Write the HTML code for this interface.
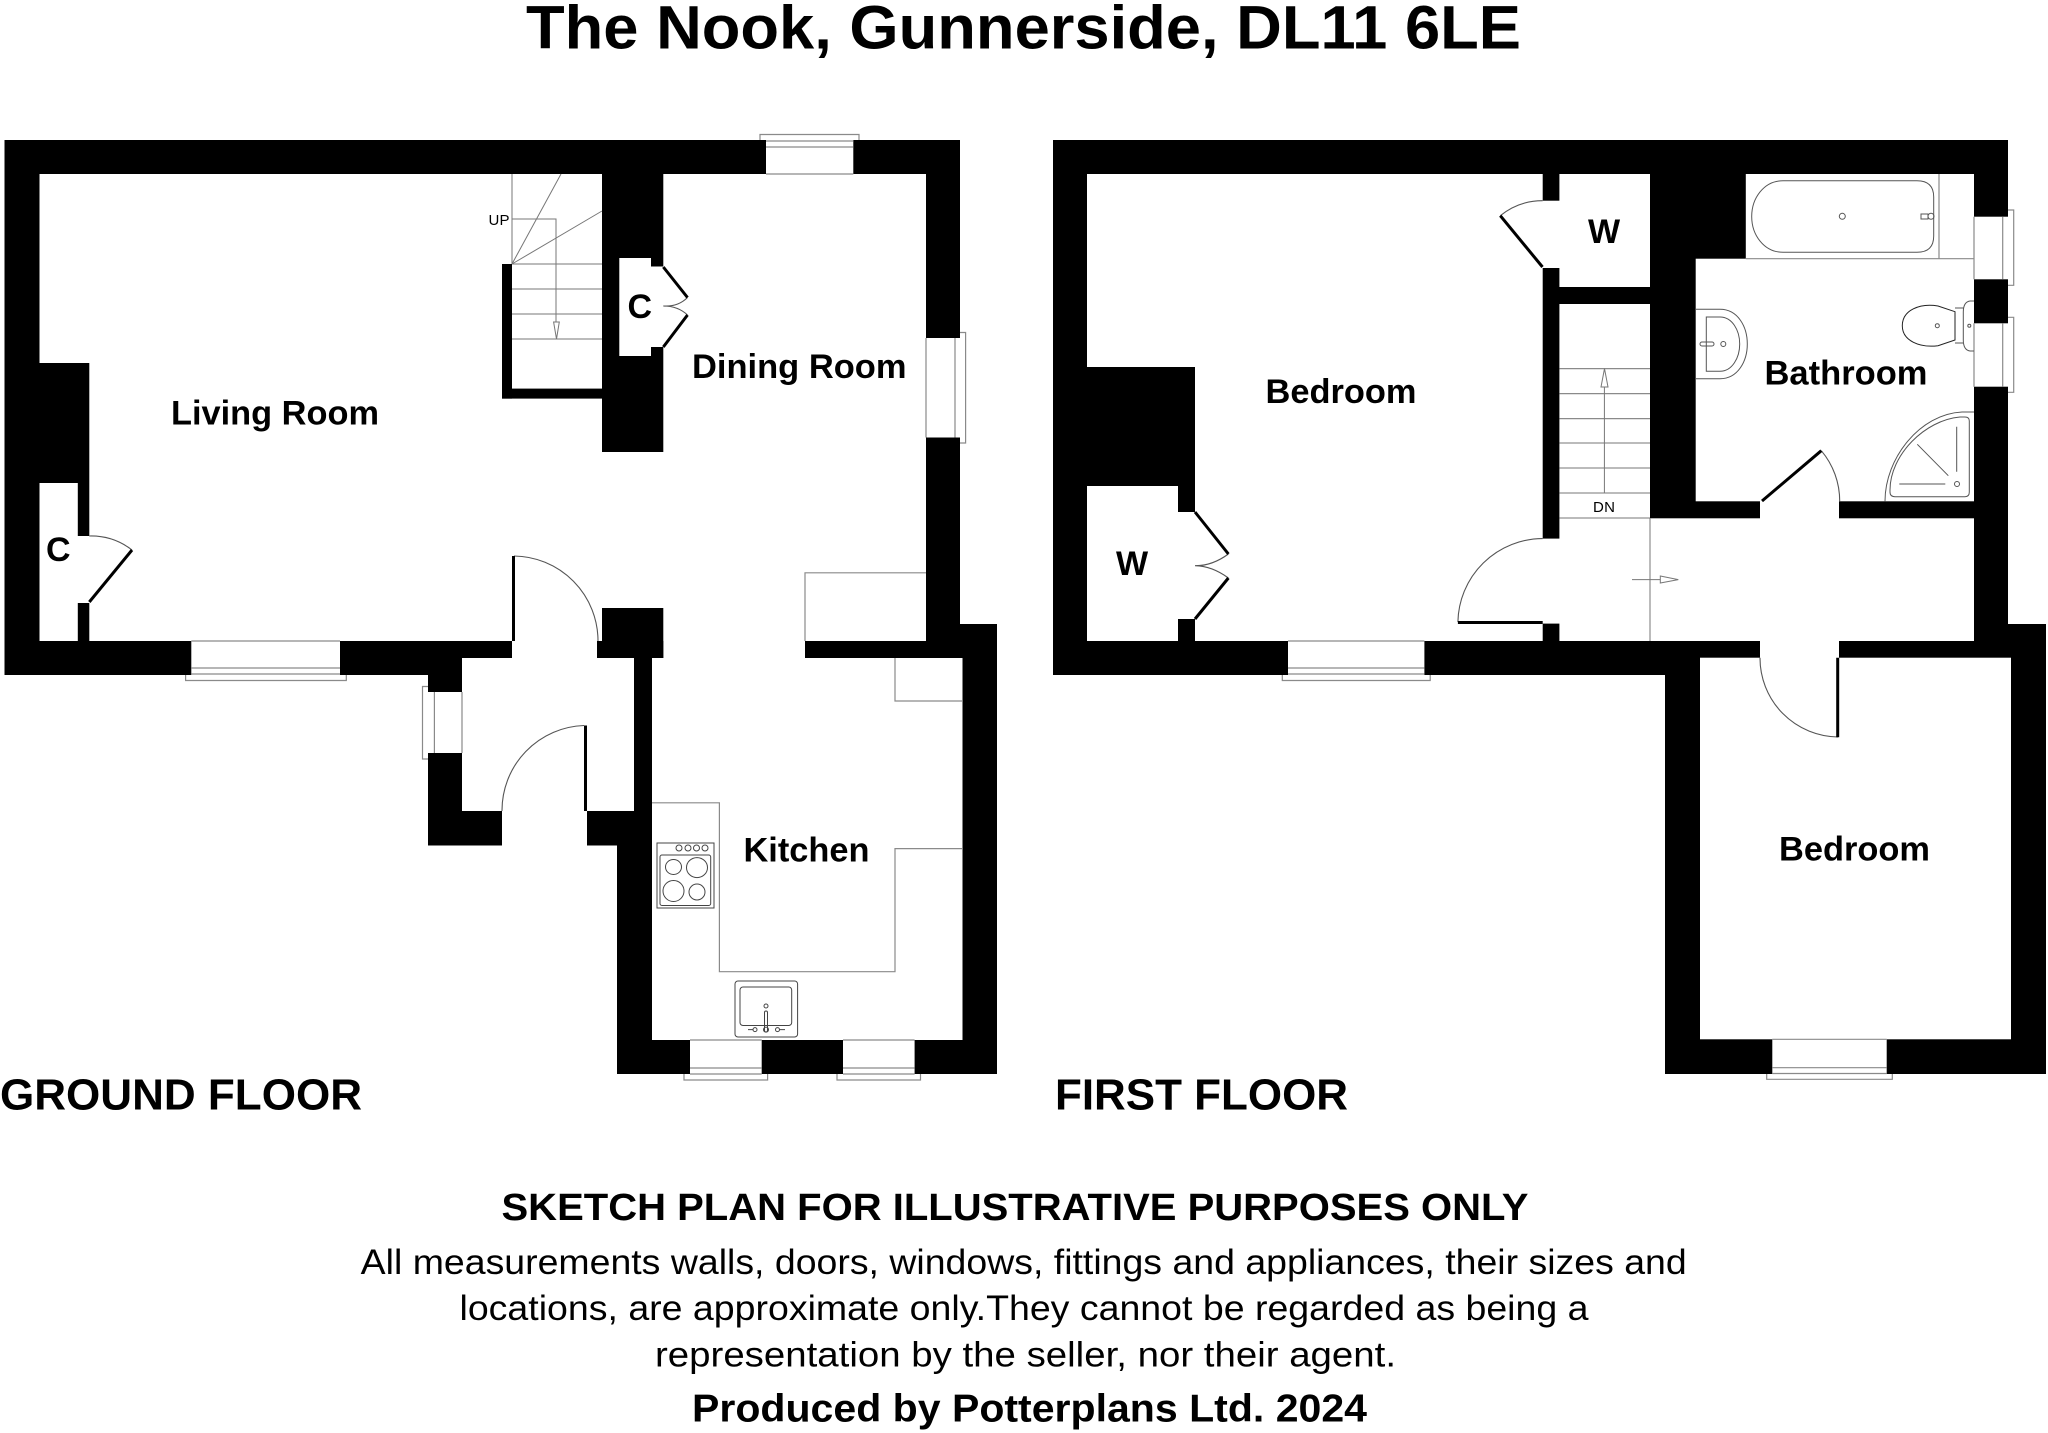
<!DOCTYPE html>
<html><head><meta charset="utf-8"><style>html,body{margin:0;padding:0;background:#fff}svg{display:block}text{font-family:"Liberation Sans",sans-serif;fill:#000}.b{font-weight:bold;font-size:34px}</style></head><body>
<svg width="2048" height="1433" viewBox="0 0 2048 1433" xmlns="http://www.w3.org/2000/svg">
<rect width="2048" height="1433" fill="#fff"/>
<!-- GROUND outer -->
<path fill="#000" d="M4.5 140H960V624H997V1074H617V845.5H587V811H502V845.5H428V675H4.5Z"/>
<g fill="#fff">
<rect x="39.5" y="174" width="886.5" height="467"/>
<rect x="660" y="640" width="145" height="19"/>
<rect x="652" y="658" width="310.5" height="382"/>
<rect x="462" y="658" width="172" height="153"/>
<rect x="512" y="640" width="85" height="19"/>
</g>
<g fill="#000">
<rect x="39" y="363" width="50.3" height="278"/>
<rect x="602" y="174" width="61.3" height="278"/>
<rect x="502" y="264" width="10" height="134.6"/>
<rect x="502" y="388.6" width="100.5" height="10"/>
<rect x="602" y="608" width="61.3" height="50"/>
<rect x="597" y="641" width="66.3" height="17"/>
</g>
<g fill="#fff">
<path d="M39.5 483H77.8V536H90V603H77.8V641H39.5Z"/>
<path d="M619.3 258H651V266.5H664V347H651V356H619.3Z"/>
<!-- ground windows -->
<rect x="766" y="139" width="87.3" height="36"/>
<rect x="925" y="338" width="36" height="99.5"/>
<rect x="191.3" y="640" width="148.7" height="35.5"/>
<rect x="427" y="692" width="36" height="61"/>
<rect x="690" y="1039" width="71.7" height="35.5"/>
<rect x="843" y="1039" width="71.6" height="35.5"/>
</g>
<g fill="none" stroke="#8a8a8a" stroke-width="1.2">
<path d="M760 140V134.5H859V140M766 141H853.3M766 147H853.3M766 174H853.3"/>
<path d="M960 332.5H965.6V443H960M955 338V437.5M926 338V437.5"/>
<path d="M185.6 675V680.5H346.3V675M191.3 668H340M191.3 674H340M191.3 641H340"/>
<path d="M428 686.5H422.5V759H428M434.4 692V753M462 692V753"/>
<path d="M684 1074V1080H767.6V1074M690 1068H761.7M690 1074H761.7M690 1040H761.7"/>
<path d="M837 1074V1080H920.5V1074M843 1068H914.6M843 1074H914.6M843 1040H914.6"/>
<path d="M805 641V572.8H926"/>
<path d="M895 658V701H962"/>
<path d="M962 848.6H895V971.7H719.4V802.8H652"/>
</g>
<!-- stairs ground -->
<g fill="none" stroke="#777" stroke-width="1">
<path d="M512 174V264M512 264L561 174M512 264L602 211"/>
<path d="M512 264H602M512 289H602M512 314H602M512 339H602"/>
<path d="M512 219H556V322"/>
<path d="M553.6 322H559.3L556.5 339Z" fill="#fff"/>
</g>
<text x="488.5" y="225" font-size="15" textLength="21">UP</text>
<!-- ground doors -->
<g fill="none" stroke="#555" stroke-width="1.1">
<path d="M514 556A85 85 0 0 1 598 641"/>
<path d="M584 725.5A85 85 0 0 0 502 811"/>
<path d="M132 550A67 67 0 0 0 89.3 536"/>
<path d="M687.5 297.5Q678 307 663.3 306Q678 306 687.5 315"/>
</g>
<g stroke="#000" stroke-width="3" fill="none">
<path d="M89.3 602L132 550"/>
<path d="M663.3 267L687.5 297.5M663.3 347L687.5 315"/>
<path d="M513.5 556V641"/>
<path d="M585.5 725.5V811"/>
</g>
<!-- hob -->
<g fill="none" stroke="#444" stroke-width="1">
<rect x="657" y="843" width="57" height="65"/>
<rect x="660" y="855" width="50.7" height="50.5" rx="2"/>
<circle cx="679" cy="848" r="3"/><circle cx="688" cy="848" r="3"/><circle cx="696.5" cy="848" r="3"/><circle cx="705" cy="848" r="3"/>
<ellipse cx="673.5" cy="867" rx="8" ry="7.5"/><ellipse cx="697" cy="867.6" rx="10.5" ry="10"/>
<ellipse cx="673.5" cy="891" rx="10.5" ry="10.5"/><ellipse cx="697" cy="892" rx="8" ry="8"/>
<rect x="735" y="981" width="62.6" height="56" rx="3"/>
<rect x="740" y="987" width="51.7" height="38.5" rx="3"/>
<circle cx="766" cy="1006" r="2"/>
<rect x="764.5" y="1011" width="3" height="21" rx="1.5"/>
<circle cx="755" cy="1029.6" r="2"/><circle cx="777.5" cy="1029.6" r="2"/><circle cx="766" cy="1029.6" r="2.5"/>
<path d="M748 1029.6H753M779.5 1029.6H785"/>
</g>
<!-- FIRST outer -->
<path fill="#000" d="M1053 140H2008V624H2046V1074H1665V675H1053Z"/>
<g fill="#fff">
<rect x="1087" y="174" width="455.7" height="467"/>
<rect x="1559.4" y="174" width="90.6" height="113"/>
<rect x="1559.4" y="304" width="90.6" height="337"/>
<rect x="1645" y="518.3" width="329" height="122.7"/>
<rect x="1745.8" y="174" width="228.2" height="90"/>
<rect x="1695.7" y="258.7" width="278.3" height="242.6"/>
<rect x="1760" y="495" width="79" height="24"/>
<rect x="1700" y="657.7" width="311" height="381.6"/>
<rect x="1760" y="635" width="79" height="25"/>
<rect x="1538" y="200.7" width="25" height="67.3"/>
<rect x="1538" y="538.6" width="25" height="85"/>
</g>
<rect x="1087" y="367" width="108" height="274" fill="#000"/>
<g fill="#fff">
<path d="M1087 486H1178V512H1197V619H1178V641H1087Z"/>
<rect x="1288" y="640" width="136.4" height="35.5"/>
<rect x="1973" y="216.7" width="35.5" height="62.6"/>
<rect x="1973" y="323.3" width="35.5" height="63.4"/>
<rect x="1772.3" y="1038.5" width="114.4" height="35.7"/>
</g>
<g fill="none" stroke="#8a8a8a" stroke-width="1.2">
<path d="M1282.3 675V680.5H1430.2V675M1288 668H1424.4M1288 674H1424.4M1288 641H1424.4"/>
<path d="M2008 210H2013.7V285.3H2008M2002.7 216.7V279.3M1974 216.7V279.3"/>
<path d="M2008 317.3H2013.7V392.3H2008M2002.7 323.3V386.7M1974 323.3V386.7"/>
<path d="M1766.7 1074V1079.3H1892.3V1074M1772.3 1067.7H1886.7M1772.3 1073.5H1886.7M1772.3 1039.3H1886.7"/>
<path d="M1745.8 258.7H1974M1939 174V258.7"/>
<path d="M1559.4 368.6H1650M1559.4 393.6H1650M1559.4 418.6H1650"/>
</g>
<g fill="none" stroke="#777" stroke-width="1">
<path d="M1559.4 443H1650M1559.4 468H1650M1559.4 493H1650M1559.4 518H1650"/>
<path d="M1604.4 493V387"/>
<path d="M1601 387H1608L1604.5 368.6Z" fill="#fff"/>
<path d="M1650 518V641"/>
<path d="M1632 579.6H1660.3"/>
<path d="M1660.3 576V583L1678.3 579.6Z" fill="#fff"/>
</g>
<text x="1593" y="512" font-size="15" textLength="22">DN</text>
<!-- first doors -->
<g fill="none" stroke="#555" stroke-width="1.1">
<path d="M1500.3 215.7A67 67 0 0 1 1542.7 200.7"/>
<path d="M1457.9 622A85 85 0 0 1 1542.7 538.6"/>
<path d="M1760 657.7A79 79 0 0 0 1838 737"/>
<path d="M1821.3 450.7A78 78 0 0 1 1839.7 501.3"/>
<path d="M1228.4 554Q1212 566 1195 565.7Q1212 566 1228.4 578"/>
</g>
<g stroke="#000" stroke-width="3" fill="none">
<path d="M1542.5 267L1500.3 215.7"/>
<path d="M1195 512L1228.4 554M1195 619L1228.4 578"/>
<path d="M1457.9 622.5H1542.7"/>
<path d="M1837.7 657.7V737.3"/>
<path d="M1762 501L1821.3 450.7"/>
</g>
<!-- bathroom fittings -->
<g fill="none" stroke="#555" stroke-width="1">
<path d="M1783 180.7H1917Q1933.7 180.7 1933.7 197V236Q1933.7 252.3 1917 252.3H1783C1764 252.3 1751.7 235 1751.7 216.5C1751.7 198 1764 180.7 1783 180.7Z"/>
<circle cx="1842.3" cy="216.3" r="3"/>
<circle cx="1931" cy="216.3" r="3"/><rect x="1921" y="214" width="7" height="5"/>
<path d="M1696 309.3H1720C1738 309.3 1747.3 327 1747.3 344C1747.3 361 1738 378.7 1720 378.7H1696"/>
<path d="M1706.3 317H1720C1732 317 1739.7 330 1739.7 344C1739.7 358 1732 371.3 1720 371.3H1706.3Z"/>
<circle cx="1723.3" cy="344" r="2.5"/><rect x="1700" y="342" width="14" height="4" rx="2"/>
<path d="M1955 311.7L1938 306C1920 303 1902.3 310 1902.3 325.7C1902.3 341 1920 348 1938 345.7L1955 340Z" stroke="#222"/>
<path d="M1955 308H1963.5M1955 343H1963.5"/>
<path d="M1974 301H1970Q1963.3 302 1963.3 312V340Q1963.3 350 1970 351H1974"/>
<circle cx="1937.3" cy="325.7" r="2"/><circle cx="1969.3" cy="325.7" r="1.5"/>
<path d="M1974 412H1962C1920 414 1885 458 1885 501.3"/>
<path d="M1965 417H1960C1925 420 1890 455 1890 490V492Q1890 496.7 1895 496.7H1965Q1969.3 496.7 1969.3 492V421Q1969.3 417 1965 417Z"/>
<path d="M1956.7 426.7V471.7M1917.3 444.3L1948.3 475.7M1899.3 484H1945.3"/>
<circle cx="1957" cy="484" r="2.5"/>
</g>
<!-- labels -->
<text x="526" y="48.3" font-size="61" font-weight="bold" textLength="995" lengthAdjust="spacingAndGlyphs">The Nook, Gunnerside, DL11 6LE</text>
<text class="b" x="171" y="424.6" textLength="208" lengthAdjust="spacingAndGlyphs">Living Room</text>
<text class="b" x="692" y="377.9" textLength="214.5" lengthAdjust="spacingAndGlyphs">Dining Room</text>
<text class="b" x="743.5" y="861.7" textLength="126" lengthAdjust="spacingAndGlyphs">Kitchen</text>
<text class="b" x="1265.5" y="403" textLength="151" lengthAdjust="spacingAndGlyphs">Bedroom</text>
<text class="b" x="1764.5" y="384.7" textLength="163" lengthAdjust="spacingAndGlyphs">Bathroom</text>
<text class="b" x="1779" y="860.7" textLength="151" lengthAdjust="spacingAndGlyphs">Bedroom</text>
<text class="b" x="46" y="561">C</text>
<text class="b" x="627.5" y="318">C</text>
<text class="b" x="1588" y="243">W</text>
<text class="b" x="1116" y="575">W</text>
<text x="0" y="1109.3" font-size="44" font-weight="bold" textLength="362" lengthAdjust="spacingAndGlyphs">GROUND FLOOR</text>
<text x="1055" y="1109.3" font-size="44" font-weight="bold" textLength="293" lengthAdjust="spacingAndGlyphs">FIRST FLOOR</text>
<text x="501.5" y="1220" font-size="38" font-weight="bold" textLength="1027" lengthAdjust="spacingAndGlyphs">SKETCH PLAN FOR ILLUSTRATIVE PURPOSES ONLY</text>
<text x="360.7" y="1274" font-size="35" textLength="1326" lengthAdjust="spacingAndGlyphs">All measurements walls, doors, windows, fittings and appliances, their sizes and</text>
<text x="459.5" y="1320" font-size="35" textLength="1129" lengthAdjust="spacingAndGlyphs">locations, are approximate only.They cannot be regarded as being a</text>
<text x="655" y="1366.7" font-size="35" textLength="741" lengthAdjust="spacingAndGlyphs">representation by the seller, nor their agent.</text>
<text x="692" y="1421.7" font-size="39" font-weight="bold" textLength="675" lengthAdjust="spacingAndGlyphs">Produced by Potterplans Ltd. 2024</text>
</svg>
</body></html>
